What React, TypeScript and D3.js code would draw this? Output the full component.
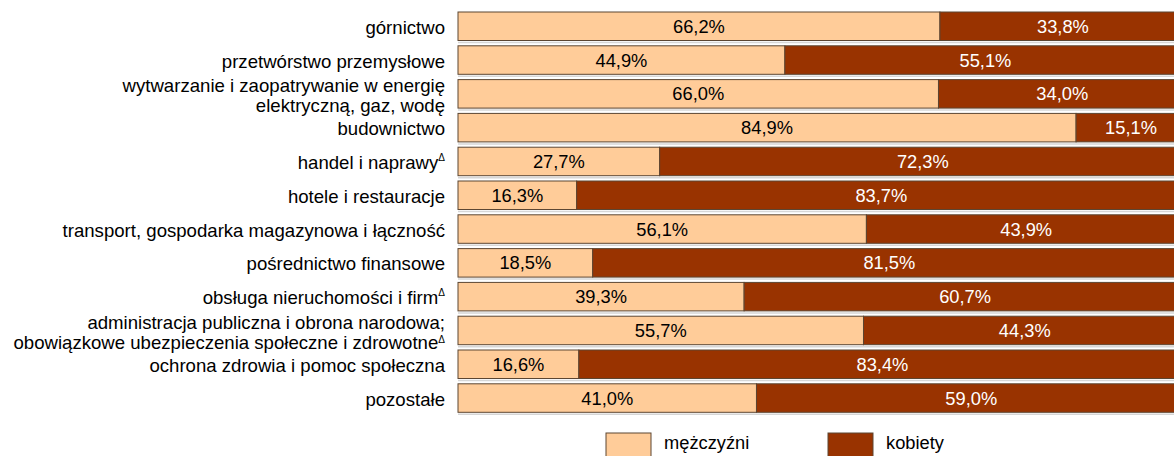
import * as d3 from 'd3';
import React from 'react';

// sectors (label lines), '^' marks a Δ superscript
const categories = [
   ['górnictwo'],
   ['przetwórstwo przemysłowe'],
   ['wytwarzanie i zaopatrywanie w energię', 'elektryczną, gaz, wodę'],
   ['budownictwo'],
   ['handel i naprawy^'],
   ['hotele i restauracje'],
   ['transport, gospodarka magazynowa i łączność'],
   ['pośrednictwo finansowe'],
   ['obsługa nieruchomości i firm^'],
   ['administracja publiczna i obrona narodowa;', 'obowiązkowe ubezpieczenia społeczne i zdrowotne^'],
   ['ochrona zdrowia i pomoc społeczna'],
   ['pozostałe'],
];
const men = [66.2, 44.9, 66.0, 84.9, 27.7, 16.3, 56.1, 18.5, 39.3, 55.7, 16.6, 41.0];
const women = [33.8, 55.1, 34.0, 15.1, 72.3, 83.7, 43.9, 81.5, 60.7, 44.3, 83.4, 59.0];
const seriesNames = ['mężczyźni', 'kobiety'];

const W = 1174;
const H = 456;
const FONT = '"Liberation Sans", Arial, sans-serif';
const LIGHT = '#ffcc99';
const DARK = '#993300';
const EDGE = '#5c4632';

const fmt = (v: number) => v.toFixed(1).replace('.', ',') + '%';

const Label = ({ lines, y }: { lines: string[]; y: number }) => {
   const x = 445;
   const baselines = lines.length === 1 ? [y + 7.5] : [y - 1.5, y + 18.5];
   return (
      <g>
         {lines.map((ln, i) => {
            const sup = ln.endsWith('^');
            const txt = sup ? ln.slice(0, -1) : ln;
            return (
               <text key={i} x={x} y={baselines[i]} textAnchor="end" fontSize={18.6} fontFamily={FONT} fill="#000">
                  {txt}
                  {sup && (
                     <tspan fontSize={10} dy={i > 0 ? -6 : -8}>
                        Δ
                     </tspan>
                  )}
               </text>
            );
         })}
      </g>
   );
};

export default function App() {
   const keys = categories.map((_, i) => String(i));
   const x = d3.scaleLinear().domain([0, 100]).range([458, 1186]);
   const y = d3
      .scaleBand<string>()
      .domain(keys)
      .range([9.35, 9.35 + 12 * 33.8])
      .paddingInner(0.157)
      .paddingOuter(0.0785);
   const bh = y.bandwidth();

   return (
      <svg
         width={W}
         height={H}
         style={{ position: 'fixed', left: 0, top: 0, background: '#fff' }}
      >
         <rect width={W} height={H} fill="#fff" />
         {keys.map((k, i) => {
            const y0 = y(k)!;
            const cy = y0 + bh / 2;
            const m = men[i];
            const w = women[i];
            return (
               <g key={k}>
                  <line x1={x(0)} x2={x(100)} y1={y0 + bh + 2} y2={y0 + bh + 2} stroke="#d6d6d6" strokeWidth={1.5} />
                  <rect x={x(0)} y={y0} width={x(m) - x(0)} height={bh} fill={LIGHT} stroke={EDGE} strokeWidth={1} />
                  <rect x={x(m)} y={y0} width={x(m + w) - x(m)} height={bh} fill={DARK} stroke={EDGE} strokeWidth={1} />
                  <text x={(x(0) + x(m)) / 2} y={cy + 6.5} textAnchor="middle" fontSize={18.3} fontFamily={FONT} fill="#000">
                     {fmt(m)}
                  </text>
                  <text x={(x(m) + x(m + w)) / 2} y={cy + 6.5} textAnchor="middle" fontSize={18.3} fontFamily={FONT} fill="#fff">
                     {fmt(w)}
                  </text>
                  <Label lines={categories[i]} y={cy} />
               </g>
            );
         })}
         {/* legend */}
         {seriesNames.map((name, i) => {
            const lx = 606 + i * 222;
            return (
               <g key={name}>
                  <rect x={lx} y={433} width={45} height={30} fill={i === 0 ? LIGHT : DARK} stroke={EDGE} strokeWidth={1} />
                  <text x={lx + 58} y={449} fontSize={18.3} fontFamily={FONT} fill="#000">
                     {name}
                  </text>
               </g>
            );
         })}
      </svg>
   );
}
